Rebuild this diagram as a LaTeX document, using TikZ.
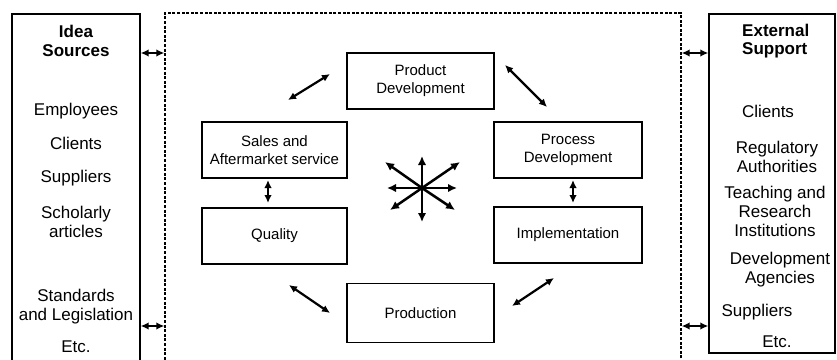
\documentclass[tikz,border=0pt]{standalone}
\usepackage{fontspec}
\setmainfont{Liberation Sans}
\usetikzlibrary{arrows.meta}
\usetikzlibrary{positioning}

\begin{document}
\begin{tikzpicture}[x=1pt, y=-1pt, every node/.style={font=\fontsize{15}{18}\selectfont}]
\tikzstyle{caja}=[
    draw,
    line width=1.2pt,
    minimum height=56pt,
    align=center,
    inner sep=0pt
]
\tikzstyle{marco}=[draw, line width=1.4pt, inner sep=0pt]
\tikzstyle{lado}=[align=center, inner sep=0pt, font=\fontsize{17}{19}\selectfont]
\tikzstyle{titulo}=[inner sep=0pt, align=left, font=\fontsize{17}{18.5}\selectfont\bfseries]
\tikzstyle{flecha}=[{Latex[length=8pt,width=7.5pt]}-{Latex[length=8pt,width=7.5pt]}, line width=2.2pt]
\tikzstyle{rayo}=[-{Latex[length=9pt,width=8.5pt]}, line width=2.5pt]

\useasboundingbox (0,0) rectangle (837,359);

% Marcos
\node[marco, minimum width=128pt, minimum height=362pt] (ideas) at (76,195) {};
\node[marco, minimum width=126pt, minimum height=339pt] (apoyo) at (772,183.5) {};
\node[marco, dash pattern=on 3pt off 1.6pt, minimum width=516pt, minimum height=363pt] (empresa) at (423,194.5) {};

% Cajas
\node[caja, minimum width=147pt] (prodev) at (420.5,81) {Product\\Development};
\node[caja, minimum width=145pt] (ventas) at (274.5,150) {Sales and\\Aftermarket service};
\node[caja, minimum width=148pt] (procdev) at (568,150) {Process\\Development};
\node[caja, minimum width=145pt] (calidad) at (274.5,236) {Quality};
\node[caja, minimum width=148pt] (implem) at (568,235) {Implementation};
\node[caja, minimum width=147pt, minimum height=59pt] (produccion) at (420.5,313) {Production};

% Textos izquierda
\node[titulo, align=center] (fuentes) at (76,41) {Idea\\Sources};
\node[lado] (empleados) at (76,111) {Employees};
\node[lado] (clientesA) at (76,143) {Clients};
\node[lado] (proveedoresA) at (76,178) {Suppliers};
\node[lado] (articulos) at (76,221.5) {Scholarly\\articles};
\node[lado] (normas) at (76,307) {Standards\\and Legislation};
\node[lado] (etcA) at (76,347) {Etc.};

% Textos derecha
\node[titulo, anchor=west] (externo) at (742,41) {External\\Support};
\node[lado] (clientesB) at (768,111) {Clients};
\node[lado] (autoridades) at (777,156.5) {Regulatory\\Authorities};
\node[lado] (institutos) at (775,211) {Teaching and\\Research\\Institutions};
\node[lado] (agencias) at (780,269.5) {Development\\Agencies};
\node[lado] (proveedoresB) at (757,312) {Suppliers};
\node[lado] (etcB) at (777,342) {Etc.};

% Extremos de flechas
\coordinate (arriba) at (0,53);
\coordinate (abajo) at (0,326);
\coordinate (a1) at (288,100);
\coordinate (a2) at (330,74);
\coordinate (b1) at (505,65);
\coordinate (b2) at (547,107);
\coordinate (c1) at (573,180);
\coordinate (c2) at (573,203);
\coordinate (d1) at (554,278);
\coordinate (d2) at (512,306);
\coordinate (e1) at (330,313);
\coordinate (e2) at (289,285);
\coordinate (f1) at (268,180);
\coordinate (f2) at (268,203);
\coordinate (centro) at (422,188);

% Flechas laterales
\draw[flecha] (ideas.east |- arriba) -- (empresa.west |- arriba);
\draw[flecha] (ideas.east |- abajo) -- (empresa.west |- abajo);
\draw[flecha] (empresa.east |- arriba) -- (apoyo.west |- arriba);
\draw[flecha] (empresa.east |- abajo) -- (apoyo.west |- abajo);

% Flechas del ciclo
\draw[flecha] (a1) -- (a2);
\draw[flecha] (b1) -- (b2);
\draw[flecha] (c1) -- (c2);
\draw[flecha] (d1) -- (d2);
\draw[flecha] (e1) -- (e2);
\draw[flecha] (f1) -- (f2);

% Estrella central
\foreach \dx/\dy in {0/-32, 0/34, 35/0, -35/0, 38/-26, -37/-26, 33/22, -32/22}
    \draw[rayo] (centro) -- ++(\dx,\dy);

\end{tikzpicture}
\end{document}
